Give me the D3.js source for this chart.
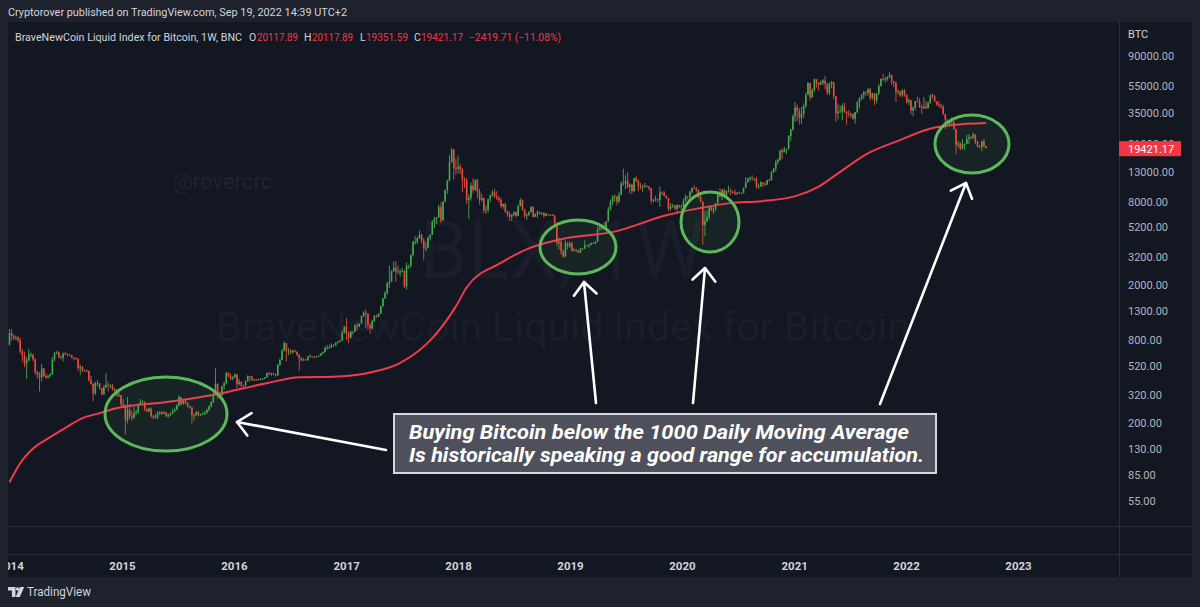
<!DOCTYPE html>
<html><head><meta charset="utf-8">
<script src="https://cdn.jsdelivr.net/npm/d3@7"></script>
<style>
html,body{margin:0;padding:0;background:#1e222d;}
svg{display:block;}
</style></head><body>
<svg id="chart" width="1200" height="607"></svg>
<script>
// ---- weekly candles (BLX, 1W), weeks start Monday 2013-12-30 ----
const firstWeek = "2013-12-30";
const firstOpen = 740;
const c2014 = [900,860,830,830,800,660,620,540,570,630,630,580,470,450,430,500,440,430,440,450,580,640,650,600,595,640,635,630,620,595,590,585,500,510,480,475,480,410,385,330,390,390,360,325,365,380,375,375,350,350,320,320];
const h2014 = [960,960,880,860,860,830,690,660,600,690,650,630,590,480,470,540,500,460,450,460,600,660,670,660,620,650,655,640,630,625,600,600,590,530,520,490,490,480,440,390,400,410,390,360,380,460,400,385,385,360,355,340];
const l2014 = [730,790,800,800,770,640,560,510,420,560,600,560,450,420,340,400,430,420,420,430,450,560,630,590,580,560,620,610,610,590,570,575,480,450,470,470,470,400,380,290,320,370,350,320,320,360,340,360,345,330,310,310];
const c2015 = [275,265,210,250,225,220,235,240,275,285,285,255,245,255,225,225,220,235,240,235,240,225,230,235,245,250,270,310,275,290,280,265,260,230,230,240,230,230,235,240,250,265,285,325,385,330,320,370,390,460,440,420];
const h2015 = [320,300,275,310,275,245,265,250,280,300,295,290,255,260,260,230,235,245,245,245,245,240,235,240,255,260,275,320,310,295,295,285,270,265,235,245,245,235,240,245,255,270,290,335,500,390,340,375,400,470,470,460];
const l2015 = [265,260,165,200,215,210,215,230,235,270,280,245,240,240,220,215,215,215,230,230,235,222,220,225,235,240,250,265,270,275,275,260,255,200,210,225,225,225,230,230,235,245,260,280,320,300,310,315,350,380,430,410];
const c2016 = [430,450,385,400,375,375,405,440,435,415,415,410,415,420,420,430,460,455,460,455,445,530,575,670,760,670,670,650,670,660,625,590,570,580,575,605,610,608,602,610,615,640,655,700,705,705,730,730,765,775,790,900,1000];
const h2016 = [440,460,455,420,400,380,410,445,440,440,420,420,420,425,425,432,465,470,465,465,455,535,590,690,780,740,700,690,680,680,660,630,600,590,585,615,630,612,610,615,620,645,660,720,740,740,755,745,770,785,795,935,1005];
const l2016 = [410,425,360,375,365,365,370,400,400,405,405,405,410,410,415,420,428,445,440,445,435,440,520,570,660,560,620,630,640,650,610,480,560,565,565,565,600,600,590,600,605,615,630,650,680,690,700,720,725,755,770,790,890];
const c2017 = [900,830,920,920,1020,1000,1050,1190,1260,1240,1030,970,1100,1200,1180,1240,1400,1600,1750,2050,2100,2500,2650,2500,2500,2500,2520,1950,2750,2760,3300,4100,4100,4350,4600,4200,3700,3700,4400,4600,5700,6000,6150,7300,5850,8000,9700,11300,15300,19000,13900,13800];
const h2017 = [1150,920,930,925,1040,1070,1060,1200,1290,1330,1250,1060,1110,1210,1220,1250,1420,1610,1800,2100,2750,2550,2950,2980,2750,2600,2650,2550,2900,2800,3300,4150,4480,4450,4950,4700,4350,4100,4450,4650,5850,6200,6200,7600,7900,8050,9750,11500,17200,19600,19200,16300];
const l2017 = [800,760,820,880,915,940,990,1050,1170,980,950,890,950,1080,1160,1170,1240,1400,1580,1700,1900,2100,2500,2100,2400,2300,2450,1900,1850,2600,2650,3200,3900,3950,4300,4000,3000,3500,3850,4200,4600,5150,5500,6100,5600,6200,7900,9100,11200,15500,11500,12500];
const c2018 = [14300,13600,11600,11500,8200,8500,10400,9700,11400,9500,8200,8500,6900,7000,8300,8900,9300,8700,8500,8200,7400,7700,6800,6500,6200,6400,6700,6300,7400,8200,7000,6300,6400,6700,7300,6200,6500,6700,6600,6600,6300,6500,6400,6400,6350,5600,4000,4100,3500,3200,4000,3800];
const h2018 = [17200,15000,14000,12000,11800,9000,11000,11800,11600,11700,9900,9100,8500,7500,8400,8950,9700,9900,9500,8800,8500,7700,7800,6900,6800,6500,6800,6800,7600,8500,8300,7100,6600,6800,7400,7400,6600,6900,6800,6700,6700,6600,6500,6500,6500,6400,5600,4400,4200,3600,4200,4100];
const l2018 = [12800,12600,9300,10000,7700,6000,8100,9200,9500,8500,7600,8000,6600,6500,6700,7900,8700,8500,8200,7900,7200,7100,6600,6200,5800,5800,6300,6100,6300,7400,6900,6100,5900,6300,6700,6100,6200,6100,6400,6400,6100,6300,6350,6300,6300,5200,3800,3600,3300,3150,3200,3600];
const c2019 = [4000,3500,3550,3550,3420,3650,3650,3850,3850,3900,4000,4000,4100,5000,5100,5300,5200,5750,7000,8000,8700,8700,8000,8950,10800,10800,11300,10200,10600,9500,11800,11300,10300,10200,10400,10400,10300,10000,8100,8200,8300,8200,9300,9250,8800,8500,7100,7400,7500,7100,7500,7300];
const h2019 = [4100,4100,3700,3650,3550,3700,3700,4200,3900,3950,4050,4050,4150,5300,5350,5400,5650,5800,7300,8300,8900,9000,8800,9350,11200,13800,12400,13100,10800,10700,11800,12200,11500,10900,10600,10900,10450,10300,10000,8400,8800,8400,10300,9500,9500,8900,8200,7800,7700,7450,7650,7600];
const l2019 = [3700,3500,3500,3500,3400,3400,3580,3650,3800,3700,3850,3950,3950,4100,4950,5000,5000,5150,5700,6900,7500,8000,7500,7800,8900,10400,9800,10000,9100,9100,9400,11000,9500,9800,9400,10100,10100,9600,7700,7900,8000,7900,7300,8900,8700,8350,6800,6900,7200,7000,6500,7150];
const c2020 = [7400,8100,8700,8600,9400,10000,9900,9700,8600,8000,5400,5800,6200,7300,6900,7100,7800,8900,8700,9700,8900,9500,9500,9400,9300,9100,9300,9200,9200,10000,11000,11700,11900,11700,11700,10300,10300,11000,10750,10600,11400,11400,13000,13800,15500,16000,18700,18200,19100,19200,23800,26500,33000];
const h2020 = [7600,8400,9000,8700,9600,10100,10500,10200,9800,9200,8000,6900,6900,7400,7500,7300,7800,9500,10000,9900,9900,9700,10400,9950,9600,9750,9300,9450,9300,10100,12000,11900,12100,12400,11800,12100,10800,11200,11000,10950,11500,11700,13300,14000,15900,16400,18800,19400,19900,19300,24200,26800,34000];
const l2020 = [6900,7300,8000,8300,8400,9100,9800,9300,8400,7900,3900,4500,5700,5900,6800,6500,6800,7700,8600,8200,8800,8600,9300,8900,9100,8900,8900,9100,9050,9150,10800,11000,11200,11400,11200,9900,9900,10200,10150,10350,10550,11200,11400,12900,13200,14800,15800,16200,18100,17600,19000,21900,26000];
const c2021 = [38200,36000,32200,34300,39200,47100,57500,45200,51000,61200,57300,55800,57800,59800,56200,49000,56600,58300,46400,34700,35700,35800,39100,35500,34700,34200,34300,31800,35400,41600,44600,47000,49300,48800,51800,45000,48300,42800,48200,54700,61500,60900,61300,63300,65500,59000,57300,49400,50100,46700,50800,47300];
const h2021 = [41900,40100,37800,38500,40900,49000,58300,57500,52600,61700,60600,58400,60000,61200,64800,57500,58400,59500,58600,45700,40800,39400,40900,41300,36100,36600,35100,34600,35400,42600,45300,48000,50500,50000,52900,52900,48800,48400,48500,56500,62000,67000,63700,64300,69000,66300,59200,59100,51900,50300,52000,52100];
const l2021 = [30200,30500,28800,29200,32300,37900,47000,43000,45000,49300,53300,50400,55800,55500,51600,47100,47100,52900,43900,30100,31300,34800,31000,34900,28800,32700,32100,31100,29300,34600,37600,43000,43900,46300,46700,43000,43700,39800,40800,47200,54100,59600,57900,59500,62300,55600,53600,42000,47300,45500,45600,45700];
const c2022 = [41800,43100,36300,38200,42400,42200,38400,37700,38800,37800,41300,46800,46400,42200,40400,39400,38500,34300,31300,29400,29500,29900,26600,20600,21000,19300,20800,20800,22600,23300,23200,24400,21500,20000,19800,21840.88,20117.89,19421.17];
const h2022 = [47600,44400,43500,38900,42600,45800,44700,40000,45400,42600,42300,47500,48200,47100,42400,42900,40800,40000,34400,30700,30200,32400,31700,26900,21900,21500,22500,21000,24300,24600,23700,25200,24500,21900,20500,21900,22700,20117.89];
const l2022 = [40600,39700,34000,32900,36300,41700,37900,34300,37200,37200,37600,40500,44300,42000,39200,38200,37600,33800,26700,28700,28000,29300,26500,17600,19600,18800,19000,18900,20800,20700,22400,22700,20800,19600,19500,18500,19600,19351.59];

// ---- 1000 Daily Moving Average ----
const maDates  = ["2013-12-30","2014-02-03","2014-03-18","2014-05-12","2014-07-05","2014-08-25","2014-10-20","2014-12-16","2015-05-27","2015-11-06","2016-04-16","2016-08-04","2016-11-21","2017-03-10","2017-06-25","2017-10-12","2017-12-25","2018-01-30","2018-05-19","2018-08-22","2018-12-19","2019-05-19","2019-11-14","2020-02-28","2020-06-06","2020-09-16","2021-01-05","2021-03-25","2021-05-30","2021-08-25","2021-12-12","2022-03-29","2022-06-02","2022-09-19"];
const maValues = [75,103,132,159,188,218,237,258,285,325,390,431,435,461,544,839,1400,1930,2873,3690,4355,4810,6386,7171,7793,8050,8750,10350,13060,17620,22230,27150,28540,29510];

// ---- axes ----
const priceTicks = [90000,55000,35000,21000,13000,8000,5200,3200,2000,1300,800,520,320,200,130,85,55];
const yearTicks = [2014,2015,2016,2017,2018,2019,2020,2021,2022,2023];
const lastPrice = 19421.17;

// ---- layout ----
const svg = d3.select("#chart");
const W = 1200, H = 607;
const P = {left: 8, right: 1192, top: 22, bottom: 577, plotRight: 1119, plotBottom: 526, timeTop: 554};
const C = {outer:"#1e222d", panel:"#131722", grid:"#2a2e39", text:"#d1d4dc", axis:"#b2b5be",
           up:"#45a84c", down:"#e8493f", ma:"#f23a4e", circ:"#5cb85a"};
const ff = "Roboto, 'Noto Sans', sans-serif";

const closes = [].concat(c2014,c2015,c2016,c2017,c2018,c2019,c2020,c2021,c2022);
const highs  = [].concat(h2014,h2015,h2016,h2017,h2018,h2019,h2020,h2021,h2022);
const lows   = [].concat(l2014,l2015,l2016,l2017,l2018,l2019,l2020,l2021,l2022);
const t0 = new Date(firstWeek + "T00:00:00Z");
const candles = closes.map((c, i) => {
  const o = i === 0 ? firstOpen : closes[i - 1];
  return {date: new Date(t0.getTime() + i * 7 * 864e5), o, c, h: Math.max(highs[i], o, c), l: Math.min(lows[i], o, c)};
});
const ma = maDates.map((d, i) => ({date: new Date(d + "T00:00:00Z"), v: maValues[i]}));

const x = d3.scaleUtc().domain([new Date(Date.UTC(2015,0,1)), new Date(Date.UTC(2023,0,1))]).range([122, 1018]);
const y = d3.scaleLog().domain([90000, 55]).range([56, 501]);

// backgrounds
svg.append("rect").attr("width", W).attr("height", H).attr("fill", C.outer);
svg.append("rect").attr("x", P.left).attr("y", P.top).attr("width", P.right - P.left).attr("height", P.bottom - P.top).attr("fill", C.panel);

const defs = svg.append("defs");
defs.append("clipPath").attr("id", "plotClip").append("rect")
  .attr("x", P.left).attr("y", P.top).attr("width", P.plotRight - P.left).attr("height", P.plotBottom - P.top);
defs.append("clipPath").attr("id", "timeClip").append("rect")
  .attr("x", P.left).attr("y", P.timeTop).attr("width", P.plotRight - P.left).attr("height", P.bottom - P.timeTop);

// separators
const sep = svg.append("g").attr("stroke", C.grid).attr("stroke-width", 1);
sep.append("line").attr("x1", P.left).attr("x2", P.right).attr("y1", P.plotBottom + 0.5).attr("y2", P.plotBottom + 0.5);
sep.append("line").attr("x1", P.left).attr("x2", P.right).attr("y1", P.timeTop + 0.5).attr("y2", P.timeTop + 0.5);
sep.append("line").attr("x1", P.plotRight + 0.5).attr("x2", P.plotRight + 0.5).attr("y1", P.top).attr("y2", P.bottom);

// watermarks
const wm = svg.append("g").attr("clip-path", "url(#plotClip)").attr("font-family", ff);
wm.append("text").attr("x", 562).attr("y", 278).attr("text-anchor", "middle").attr("font-size", 82)
  .attr("fill", "#1a1e2a").attr("textLength", 285).attr("lengthAdjust", "spacingAndGlyphs").text("BLX, 1W");
wm.append("text").attr("x", 563).attr("y", 341).attr("text-anchor", "middle").attr("font-size", 40)
  .attr("fill", "#1a1e2a").attr("textLength", 694).attr("lengthAdjust", "spacingAndGlyphs").text("BraveNewCoin Liquid Index for Bitcoin");
wm.append("text").attr("x", 173).attr("y", 189).attr("font-size", 22)
  .attr("fill", "#20242f").attr("textLength", 99).attr("lengthAdjust", "spacingAndGlyphs").text("@rovercrc");

// candles
const plot = svg.append("g").attr("clip-path", "url(#plotClip)");
const cg = plot.selectAll("g.candle").data(candles).join("g").attr("class", "candle");
cg.append("line")
  .attr("x1", d => x(d.date)).attr("x2", d => x(d.date))
  .attr("y1", d => y(d.h)).attr("y2", d => y(d.l))
  .attr("stroke", d => d.c >= d.o ? C.up : C.down).attr("stroke-width", 0.9);
cg.append("rect")
  .attr("x", d => x(d.date) - 0.8).attr("width", 1.6)
  .attr("y", d => y(Math.max(d.o, d.c)))
  .attr("height", d => Math.max(0.8, y(Math.min(d.o, d.c)) - y(Math.max(d.o, d.c))))
  .attr("fill", d => d.c >= d.o ? C.up : C.down);

// moving average
plot.append("path").datum(ma)
  .attr("d", d3.line().x(d => x(d.date)).y(d => y(d.v)).curve(d3.curveMonotoneX))
  .attr("fill", "none").attr("stroke", C.ma).attr("stroke-width", 2);

// ellipses
const ellipses = [
  {cx: 166, cy: 414, rx: 61, ry: 37},
  {cx: 578, cy: 247, rx: 38, ry: 27},
  {cx: 710, cy: 222, rx: 29, ry: 30},
  {cx: 972, cy: 144, rx: 37, ry: 29}
];
plot.selectAll("ellipse").data(ellipses).join("ellipse")
  .attr("cx", d => d.cx).attr("cy", d => d.cy).attr("rx", d => d.rx).attr("ry", d => d.ry)
  .attr("fill", "rgba(92,184,90,0.08)").attr("stroke", C.circ).attr("stroke-width", 3);

// arrows
const arrows = [
  {x1: 386, y1: 450, x2: 237, y2: 422},
  {x1: 596, y1: 403, x2: 584, y2: 282},
  {x1: 693, y1: 403, x2: 705, y2: 268},
  {x1: 880, y1: 404, x2: 966, y2: 183}
];
const ag = plot.append("g").attr("stroke", "#ffffff").attr("stroke-width", 2.6).attr("fill", "none")
  .attr("stroke-linecap", "round").attr("stroke-linejoin", "round");
arrows.forEach(a => {
  ag.append("line").attr("x1", a.x1).attr("y1", a.y1).attr("x2", a.x2).attr("y2", a.y2);
  const ang = Math.atan2(a.y1 - a.y2, a.x1 - a.x2), L = 17, hw = 42 * Math.PI / 180;
  ag.append("path").attr("d",
    `M${a.x2 + L * Math.cos(ang - hw)},${a.y2 + L * Math.sin(ang - hw)}L${a.x2},${a.y2}L${a.x2 + L * Math.cos(ang + hw)},${a.y2 + L * Math.sin(ang + hw)}`);
});

// annotation box
const box = svg.append("g");
box.append("rect").attr("x", 394).attr("y", 414).attr("width", 542).attr("height", 59)
  .attr("fill", "#4e515b").attr("stroke", "#d6d7da").attr("stroke-width", 2);
const bt = box.append("g").attr("font-family", ff).attr("font-weight", "bold")
  .attr("font-style", "italic").attr("font-size", 20).attr("fill", "#ffffff");
bt.append("text").attr("x", 409).attr("y", 439).attr("textLength", 500).attr("lengthAdjust", "spacingAndGlyphs")
  .text("Buying Bitcoin below the 1000 Daily Moving Average");
bt.append("text").attr("x", 409).attr("y", 462).attr("textLength", 515).attr("lengthAdjust", "spacingAndGlyphs")
  .text("Is historically speaking a good range for accumulation.");

// right price axis
const yAxis = svg.append("g").attr("transform", `translate(${P.plotRight},0)`)
  .call(d3.axisRight(y).tickValues(priceTicks).tickFormat(d => d.toFixed(2)).tickSize(0).tickPadding(9));
yAxis.select(".domain").remove();
yAxis.selectAll("text").attr("fill", C.axis).attr("font-size", 11).attr("font-family", ff);
svg.append("text").attr("x", 1128).attr("y", 38).attr("fill", C.text).attr("font-size", 11)
  .attr("font-family", ff).text("BTC");

// last price tag
const ty = y(lastPrice);
svg.append("rect").attr("x", P.plotRight).attr("y", ty - 7).attr("width", 62).attr("height", 15).attr("fill", "#f23645");
svg.append("text").attr("x", 1128).attr("y", ty + 0.5).attr("dy", "0.36em").attr("fill", "#ffffff").attr("font-size", 11)
  .attr("font-family", ff).text(lastPrice.toFixed(2));

// time axis
const xAxis = svg.append("g").attr("clip-path", "url(#timeClip)").append("g").attr("transform", `translate(0,${P.timeTop})`)
  .call(d3.axisBottom(x).tickValues(yearTicks.map(yr => new Date(Date.UTC(yr, 0, 1)))).tickFormat(d3.utcFormat("%Y")).tickSize(0).tickPadding(8));
xAxis.select(".domain").remove();
xAxis.selectAll("text").attr("fill", C.text).attr("font-size", 11.5).attr("font-weight", "bold")
  .attr("font-family", ff);

// header & legend
svg.append("text").attr("x", 8).attr("y", 16).attr("fill", C.text).attr("font-size", 11.5).attr("font-family", ff)
  .attr("textLength", 339).attr("lengthAdjust", "spacingAndGlyphs")
  .text("Cryptorover published on TradingView.com, Sep 19, 2022 14:39 UTC+2");
const lg = svg.append("g").attr("font-size", 10.5).attr("font-family", ff);
const legendParts = [
  {x: 15, t: "BraveNewCoin Liquid Index for Bitcoin, 1W, BNC", c: C.text, w: 227},
  {x: 249, t: "O", c: C.text}, {x: 257, t: "20117.89", c: "#f23645", w: 41},
  {x: 304, t: "H", c: C.text}, {x: 312, t: "20117.89", c: "#f23645", w: 41},
  {x: 360, t: "L", c: C.text}, {x: 366, t: "19351.59", c: "#f23645", w: 42},
  {x: 414, t: "C", c: C.text}, {x: 421, t: "19421.17", c: "#f23645", w: 42},
  {x: 469, t: "\u22122419.71 (\u221211.08%)", c: "#f23645", w: 92}
];
legendParts.forEach(p => {
  const t = lg.append("text").attr("x", p.x).attr("y", 41).attr("fill", p.c).text(p.t);
  if (p.w) t.attr("textLength", p.w).attr("lengthAdjust", "spacingAndGlyphs");
});

// footer
const logo = svg.append("g").attr("fill", C.text);
logo.append("path").attr("d", "M8,587h7.5v10h-3.6v-6.4h-3.9z");
logo.append("circle").attr("cx", 17.6).attr("cy", 589).attr("r", 1.7);
logo.append("path").attr("d", "M20,587h4.2l-4.4,10h-4.2z");
svg.append("text").attr("x", 27).attr("y", 596).attr("fill", C.text).attr("font-size", 12).attr("font-family", ff)
  .attr("textLength", 64).attr("lengthAdjust", "spacingAndGlyphs").text("TradingView");
</script>
</body></html>
